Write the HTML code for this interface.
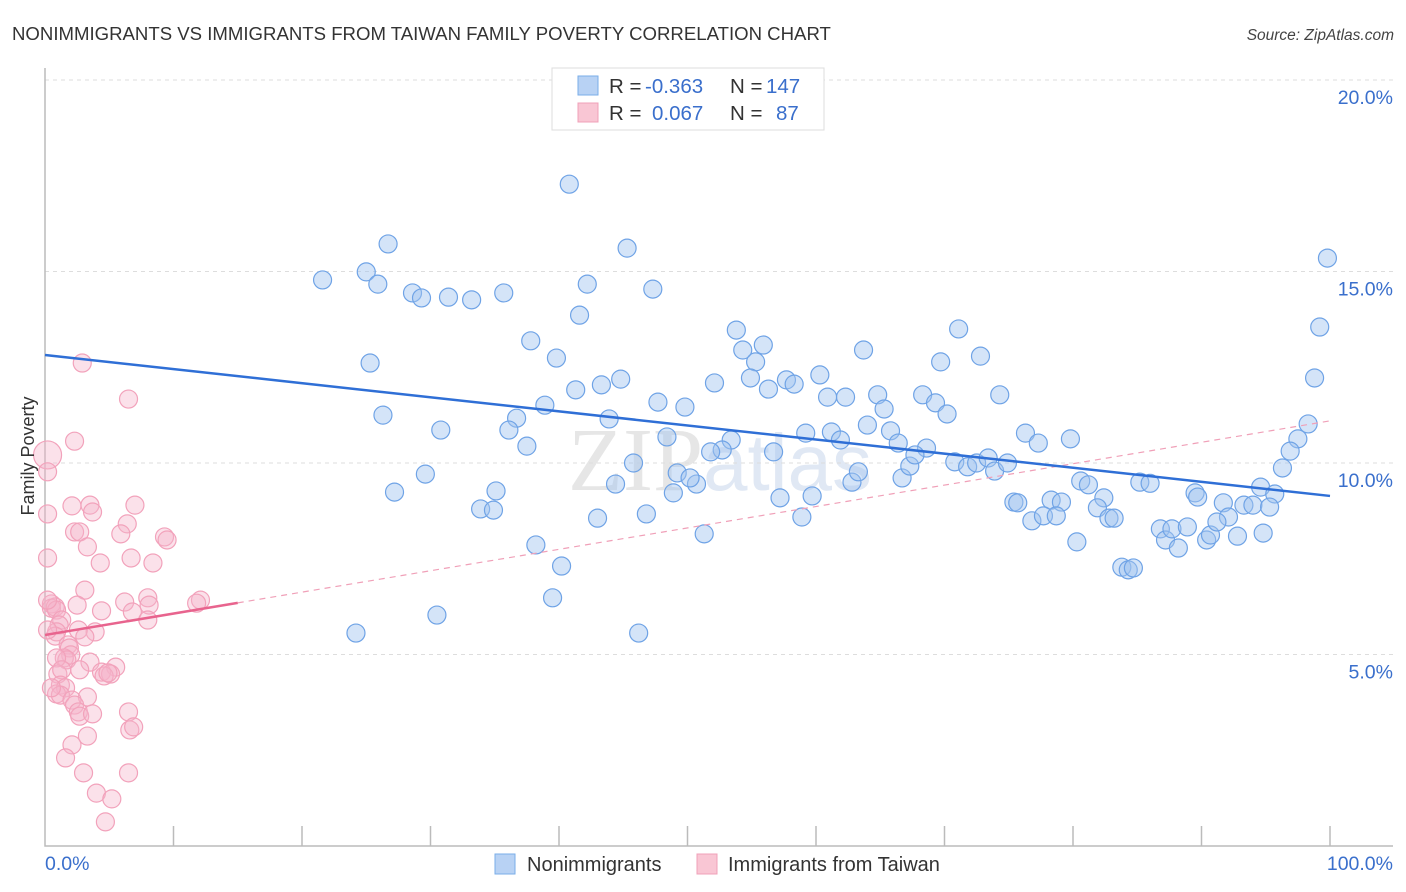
<!DOCTYPE html>
<html><head><meta charset="utf-8"><style>
body{margin:0;background:#fff;width:1406px;height:892px;overflow:hidden;font-family:"Liberation Sans",sans-serif}
svg{display:block}
</style></head><body>
<svg id="chart" width="1406" height="892" xmlns="http://www.w3.org/2000/svg">
<text x="12" y="40" font-size="18.6" fill="#333" font-family="Liberation Sans, sans-serif">NONIMMIGRANTS VS IMMIGRANTS FROM TAIWAN FAMILY POVERTY CORRELATION CHART</text>
<text x="1394" y="40" font-size="15.5" fill="#444" text-anchor="end" font-style="italic">Source: ZipAtlas.com</text>
<text x="720" y="490" font-size="90" fill="#e6e6e6" text-anchor="middle" font-family="Liberation Serif, serif">ZIP<tspan fill="#e0e8f4" font-family="Liberation Sans, sans-serif" font-size="80">atlas</tspan></text>
<g id="grid"></g>
<g id="axes"></g>
<g id="pink"></g>
<g id="blue"></g>
<g id="trends"></g>
<text transform="translate(34,456) rotate(-90)" font-size="18" fill="#333" text-anchor="middle">Family Poverty</text>
<g>
<rect x="552" y="68" width="272" height="62" fill="#fff" stroke="#ddd"/>
<rect x="578" y="76" width="20" height="19" fill="#b8d2f4" stroke="#7aaee8"/>
<rect x="578" y="103" width="20" height="19" fill="#f9c6d4" stroke="#f0a0b8"/>
<text x="609" y="93" font-size="20.5" fill="#333">R =</text>
<text x="645" y="93" font-size="20.5" fill="#3a6fcc">-0.363</text>
<text x="730" y="93" font-size="20.5" fill="#333">N =</text>
<text x="766" y="93" font-size="20.5" fill="#3a6fcc">147</text>
<text x="609" y="120" font-size="20.5" fill="#333">R =</text>
<text x="652" y="120" font-size="20.5" fill="#3a6fcc">0.067</text>
<text x="730" y="120" font-size="20.5" fill="#333">N =</text>
<text x="776" y="120" font-size="20.5" fill="#3a6fcc">87</text>
</g>
<g>
<rect x="495" y="854" width="20" height="20" fill="#b8d2f4" stroke="#7aaee8"/>
<text x="527" y="871" font-size="20" fill="#333">Nonimmigrants</text>
<rect x="697" y="854" width="20" height="20" fill="#f9c6d4" stroke="#f0a0b8"/>
<text x="728" y="871" font-size="20" fill="#333">Immigrants from Taiwan</text>
</g>
</svg>
<script>
const blueX=[40.8,26.7,45.3,21.6,25.0,25.9,28.6,29.3,31.4,33.2,35.7,42.2,47.3,99.8,99.2,41.6,37.8,25.3,39.8,53.8,71.1,54.3,55.9,63.7,72.8,69.7,55.3,44.8,43.3,41.3,52.1,54.9,57.7,58.3,60.3,56.3,98.8,47.7,49.8,38.9,26.3,36.7,43.9,60.9,62.3,64.8,68.3,69.3,70.2,74.3,65.3,30.8,36.1,37.5,48.4,53.4,52.7,51.8,56.7,59.2,61.2,61.9,64.0,65.8,66.4,68.6,76.3,77.3,79.8,98.3,97.5,96.9,45.8,29.6,35.1,27.2,33.9,34.9,44.4,49.2,50.7,48.9,50.2,57.2,59.7,62.8,63.3,66.7,67.3,67.7,70.8,71.8,72.5,73.4,73.9,74.9,96.3,94.6,95.7,80.6,81.2,85.2,86.0,89.5,89.7,93.3,94.0,95.3,91.7,92.1,75.4,75.7,78.3,79.1,82.4,81.9,76.8,77.7,78.7,82.8,83.2,43.0,46.8,58.9,86.8,87.2,88.2,87.7,88.9,90.4,90.7,91.2,92.8,94.8,80.3,51.3,38.2,40.2,83.8,84.3,84.7,39.5,30.5,24.2,46.2];
const blueY=[17.28,15.72,15.61,14.78,14.99,14.67,14.44,14.31,14.33,14.26,14.44,14.67,14.54,15.35,13.55,13.86,13.19,12.61,12.74,13.47,13.50,12.95,13.08,12.95,12.79,12.64,12.64,12.19,12.04,11.91,12.09,12.22,12.17,12.06,12.30,11.93,12.22,11.59,11.46,11.51,11.25,11.17,11.15,11.72,11.72,11.78,11.78,11.57,11.28,11.78,11.41,10.86,10.86,10.44,10.68,10.60,10.34,10.29,10.29,10.78,10.81,10.60,10.99,10.84,10.52,10.39,10.78,10.52,10.63,11.02,10.63,10.31,10.00,9.71,9.27,9.24,8.80,8.77,9.45,9.74,9.45,9.22,9.61,9.09,9.14,9.50,9.77,9.61,9.92,10.21,10.03,9.90,10.00,10.13,9.79,10.00,9.87,9.37,9.19,9.53,9.43,9.50,9.47,9.22,9.11,8.90,8.90,8.85,8.96,8.59,8.98,8.96,9.03,8.98,9.09,8.83,8.49,8.62,8.62,8.56,8.56,8.56,8.67,8.59,8.28,7.99,7.78,8.28,8.33,7.99,8.12,8.46,8.09,8.17,7.94,8.15,7.86,7.31,7.28,7.21,7.26,6.48,6.03,5.56,5.56];
const pinkX=[2.9,6.5,2.3,0.2,0.2,0.2,2.1,3.5,3.7,7.0,6.4,2.3,2.7,5.9,9.3,9.5,3.3,0.2,6.7,4.3,8.4,3.1,8.0,6.2,12.1,11.8,0.5,0.5,0.8,0.9,2.5,4.4,6.8,8.1,8.0,1.3,1.1,0.9,0.8,2.6,3.9,3.1,1.8,1.9,2.0,1.5,1.7,0.9,3.5,5.5,2.7,4.4,5.1,1.0,1.3,4.6,4.9,1.2,1.6,0.9,1.2,3.3,2.1,2.3,2.6,2.7,3.7,6.5,6.6,6.9,3.3,2.1,1.6,3.0,6.5,4.0,5.2,4.7,0.5,0.2,0.2];
const pinkY=[12.61,11.67,10.57,10.21,9.77,8.67,8.88,8.90,8.72,8.90,8.41,8.20,8.20,8.15,8.07,7.99,7.81,7.52,7.52,7.39,7.39,6.68,6.48,6.37,6.42,6.34,6.32,6.21,6.24,6.16,6.29,6.14,6.11,6.29,5.90,5.90,5.77,5.59,5.48,5.64,5.59,5.46,5.25,5.17,4.99,4.91,4.86,4.91,4.80,4.67,4.60,4.54,4.49,4.49,4.60,4.44,4.52,4.20,4.13,3.97,3.94,3.89,3.81,3.68,3.50,3.39,3.45,3.50,3.03,3.11,2.87,2.64,2.30,1.91,1.91,1.38,1.23,0.63,4.13,5.64,6.42];
const blueTrend=[12.82,9.14];
const pinkTrend=[5.51,11.1];
const pinkSolidEnd=15;
const yTicks=[5,10,15,20];
const yTickLabels=["5.0%","10.0%","15.0%","20.0%"];
const xTicks=[0,10,20,30,40,50,60,70,80,90,100];

const NS="http://www.w3.org/2000/svg";
const sx=v=>45+v*12.85;
const sy=v=>846-v*38.3;
function mk(tag,attrs,parent){const e=document.createElementNS(NS,tag);for(const k in attrs)e.setAttribute(k,attrs[k]);parent.appendChild(e);return e;}
const grid=document.getElementById('grid'),axes=document.getElementById('axes');
yTicks.forEach((t,i)=>{
  const l=mk('line',{x1:45,x2:1393,y1:sy(t),y2:sy(t),stroke:'#ddd','stroke-dasharray':'4,4'},grid);
  
  
  const tx=mk('text',{x:1393,y:sy(t)+24,'font-size':19.5,fill:'#3a6fcc','text-anchor':'end'},axes);
  tx.textContent=yTickLabels[i];
  
  
});
const ax=mk('path',{d:'M45 68 V846 H1393',fill:'none',stroke:'#bbb','stroke-width':1.5},axes);


xTicks.slice(1).forEach(t=>{
  const l=mk('line',{x1:sx(t),x2:sx(t),y1:826,y2:846,stroke:'#bbb','stroke-width':1.5},axes);
  
  
});
let t0=mk('text',{x:45,y:870,'font-size':19.5,fill:'#3a6fcc'},axes);t0.textContent='0.0%';


let t1=mk('text',{x:1393,y:870,'font-size':19.5,fill:'#3a6fcc','text-anchor':'end'},axes);t1.textContent='100.0%';



const pg=document.getElementById('pink');
pinkX.forEach((x,i)=>{
  const c=mk('circle',{cx:sx(x),cy:sy(pinkY[i]),r:(i===3?14:9),fill:'rgba(246,180,202,0.4)',stroke:'#f2a2bb','stroke-width':1.2},pg);
  
  
});
const bg=document.getElementById('blue');
blueX.forEach((x,i)=>{
  const c=mk('circle',{cx:sx(x),cy:sy(blueY[i]),r:9,fill:'rgba(160,196,240,0.45)',stroke:'#6fa3e6','stroke-width':1.2},bg);
  
  
});
const tg=document.getElementById('trends');
const pAt=x=>pinkTrend[0]+(pinkTrend[1]-pinkTrend[0])*x/100;
let d1=mk('line',{x1:sx(pinkSolidEnd),y1:sy(pAt(pinkSolidEnd)),x2:sx(100),y2:sy(pAt(100)),stroke:'#f0a0b8','stroke-width':1.2,'stroke-dasharray':'6,5'},tg);


let d2=mk('line',{x1:sx(0),y1:sy(pAt(0)),x2:sx(pinkSolidEnd),y2:sy(pAt(pinkSolidEnd)),stroke:'#e8648e','stroke-width':2.5},tg);


let d3=mk('line',{x1:sx(0),y1:sy(blueTrend[0]),x2:sx(100),y2:sy(blueTrend[1]),stroke:'#2f6fd6','stroke-width':2.5},tg);


</script>
</body></html>
